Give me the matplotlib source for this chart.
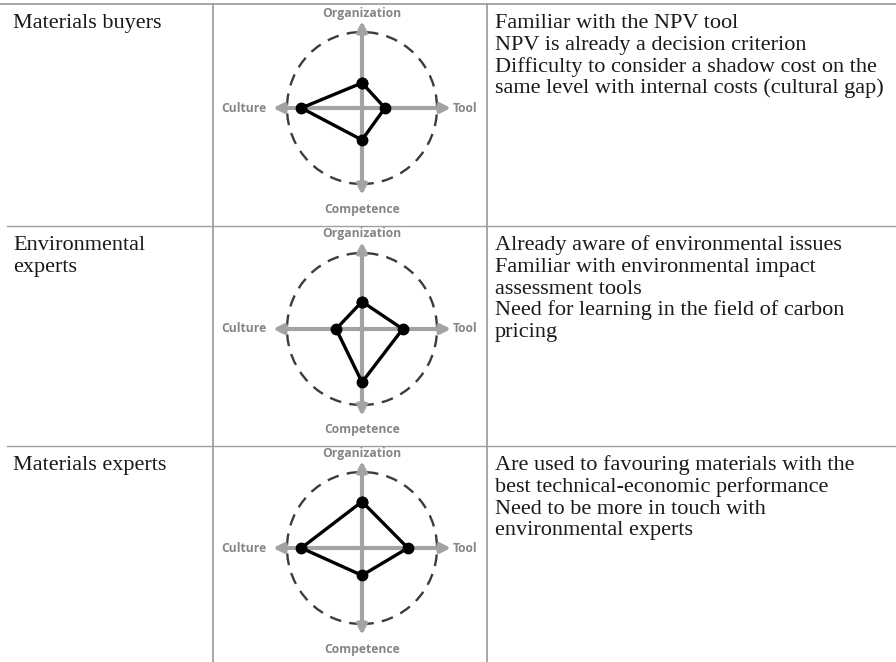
"""
plot.py

Table of three stakeholder groups with a small radar sketch for each.
"""

import matplotlib
matplotlib.use("Agg")

import matplotlib.pyplot as plt
from matplotlib.patches import Ellipse

W, H = 896, 662

# -----------------------------
# Data
# -----------------------------
groups = [
    ["Materials buyers"],
    ["Environmental", "experts"],
    ["Materials experts"],
]

remarks = [
    [
        "Familiar with the NPV tool",
        "NPV is already a decision criterion",
        "Difficulty to consider a shadow cost on the",
        "same level with internal costs (cultural gap)",
    ],
    [
        "Already aware of environmental issues",
        "Familiar with environmental impact",
        "assessment tools",
        "Need for learning in the field of carbon",
        "pricing",
    ],
    [
        "Are used to favouring materials with the",
        "best technical-economic performance",
        "Need to be more in touch with",
        "environmental experts",
    ],
]

# scores as a share of the dashed circle radius
organization = [0.33, 0.36, 0.61]
tool = [0.31, 0.55, 0.62]
competence = [0.42, 0.70, 0.36]
culture = [0.82, 0.35, 0.82]

# -----------------------------
# Layout (pixels)
# -----------------------------
row_top = [4, 226, 446]
radar_cy = [108, 329, 548]
radar_cx = 362
col_x = [213, 487]
px_x = 74.0   # pixels per unit, horizontal
px_y = 76.0   # pixels per unit, vertical
half = 125    # half size of radar box in pixels

GRAY = "#a3a3a3"
LINE = "#a0a0a0"

plt.rcParams["font.family"] = ["Liberation Serif", "DejaVu Serif"]

fig = plt.figure(figsize=(W / 100, H / 100), dpi=100)

ax = fig.add_axes([0, 0, 1, 1])
ax.set_xlim(0, W)
ax.set_ylim(H, 0)
ax.axis("off")

# table rules
ax.plot([0, W], [row_top[0], row_top[0]], color=LINE, lw=1.3)
for y in row_top[1:]:
    ax.plot([7, W], [y, y], color=LINE, lw=1.0)
for x in col_x:
    ax.plot([x, x], [row_top[0], H], color=LINE, lw=1.3)

# texts
for i in range(3):
    base = row_top[i] + 24
    for k, line in enumerate(groups[i]):
        ax.text(13, base + k * 21.8, line, fontsize=16,
                va="baseline", ha="left", color="#1a1a1a")
    for k, line in enumerate(remarks[i]):
        ax.text(495, base + k * 21.8, line, fontsize=16,
                va="baseline", ha="left", color="#1a1a1a")

# radar sketches
for i in range(3):
    left = (radar_cx - half) / W
    bottom = (H - radar_cy[i] - half) / H
    rax = fig.add_axes([left, bottom, 2 * half / W, 2 * half / H])
    rax.set_xlim(-half / px_x, half / px_x)
    rax.set_ylim(-half / px_y, half / px_y)
    rax.axis("off")
    rax.patch.set_alpha(0)

    circle = Ellipse(
        (0, 0), 2 * 75 / px_x, 2, fill=False,
        edgecolor="#3c3c3c", lw=1.7, linestyle=(0, (5, 3.5))
    )
    rax.add_patch(circle)

    arrow = dict(arrowstyle="<|-|>", color=GRAY, lw=3.0,
                 mutation_scale=14, shrinkA=0, shrinkB=0)
    rax.annotate("", xy=(89 / px_x, 0), xytext=(-89 / px_x, 0),
                 arrowprops=arrow)
    rax.annotate("", xy=(0, 87 / px_y), xytext=(0, -87 / px_y),
                 arrowprops=arrow)

    lab = dict(fontsize=8.7, fontweight="bold", color="#858585",
               family=["Open Sans", "DejaVu Sans"])
    rax.text(0, 95 / px_y, "Organization", ha="center", va="center", **lab)
    rax.text(0, -101 / px_y, "Competence", ha="center", va="center", **lab)
    rax.text(-95 / px_x, 0, "Culture", ha="right", va="center", **lab)
    rax.text(91 / px_x, 0, "Tool", ha="left", va="center", **lab)

    xs = [0, tool[i], 0, -culture[i], 0]
    ys = [organization[i], 0, -competence[i], 0, organization[i]]
    rax.plot(xs, ys, color="black", lw=2.4, marker="o",
             markersize=7.5, zorder=5)

fig.savefig("out.png", dpi=100)
plt.close(fig)
